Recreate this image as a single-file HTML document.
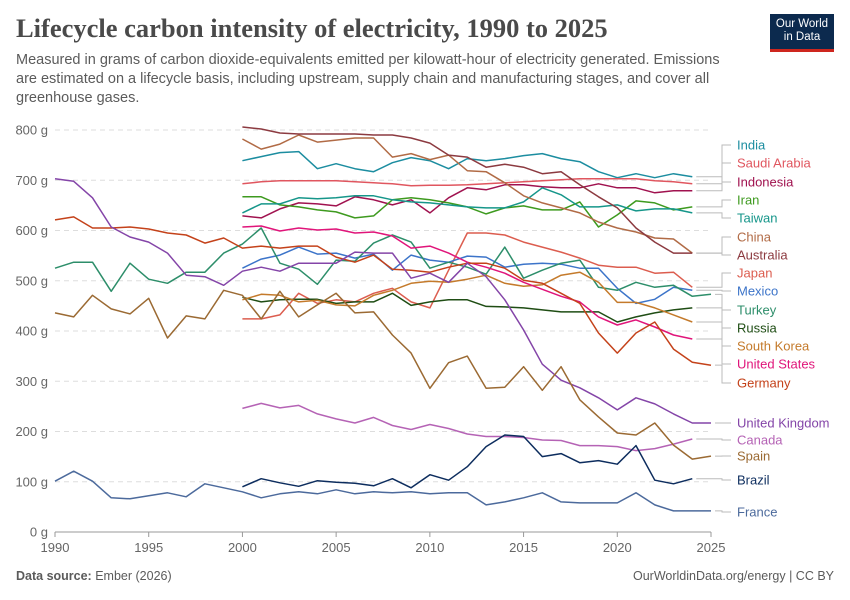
<!DOCTYPE html>
<html><head><meta charset="utf-8">
<style>
body{margin:0;background:#fff;width:850px;height:600px;overflow:hidden;font-family:"Liberation Sans",sans-serif;}
#wrap{position:relative;width:850px;height:600px;}
.title{position:absolute;left:16px;top:13px;font-family:"Liberation Serif",serif;font-size:26.5px;color:#4a4a4a;margin:0;font-weight:bold;letter-spacing:0px}
.sub{position:absolute;left:16px;top:51px;width:728px;font-size:14.5px;line-height:19px;color:#5b5b5b;margin:0}
.logo{position:absolute;left:770px;top:14px;width:64px;height:38px;background:#0c2a4e;color:#fff;font-size:11.5px;line-height:13px;text-align:center;padding-top:4px;box-sizing:border-box;border-bottom:3px solid #ce261e}
.foot{position:absolute;top:569px;font-size:12.5px;color:#5b5b5b}
</style></head><body>
<div id="wrap">
<h1 class="title">Lifecycle carbon intensity of electricity, 1990 to 2025</h1>
<p class="sub">Measured in grams of carbon dioxide-equivalents emitted per kilowatt-hour of electricity generated. Emissions are estimated on a lifecycle basis, including upstream, supply chain and manufacturing stages, and cover all greenhouse gases.</p>
<div class="logo">Our World<br>in Data</div>
<svg id="chart" width="850" height="600" style="position:absolute;left:0;top:0"></svg>
<div class="foot" style="left:16px"><b>Data source:</b> Ember (2026)</div>
<div class="foot" style="right:16px">OurWorldinData.org/energy | CC BY</div>
</div>
<script>
const yTicks=[0,100,200,300,400,500,600,700,800];
const xTicks=[1990,1995,2000,2005,2010,2015,2020,2025];
const countries=["India","Saudi Arabia","Indonesia","Iran","Taiwan","China","Australia","Japan","Mexico","Turkey","Russia","South Korea","United States","Germany","United Kingdom","Canada","Spain","Brazil","France"];
const startYears=[2000,2000,2000,2000,2000,2000,2000,2000,2000,1990,2000,2000,2000,1990,1990,2000,1990,2000,1990];
const india=[739,747,755,757,723,733,723,717,735,745,739,723,743,739,743,749,753,743,737,717,705,713,705,713,707];
const saudi=[693,697,699,699,699,699,697,695,693,689,690,690,691,693,695,697,699,701,703,703,703,703,699,697,693];
const indonesia=[629,625,643,655,653,649,667,661,651,661,635,665,685,681,691,691,687,685,685,693,685,685,675,679,679];
const iran=[667,667,651,647,641,637,625,629,661,665,661,655,647,633,645,649,641,641,657,607,631,659,655,641,647];
const taiwan=[635,653,653,665,663,665,669,669,661,657,655,651,647,645,645,657,685,671,647,647,651,639,643,643,635];
const china=[782,762,772,790,776,780,784,784,746,753,741,750,719,717,695,669,655,645,635,617,605,597,585,583,555];
const australia=[806,802,794,792,792,792,792,790,790,784,774,750,746,726,732,726,713,717,691,667,645,605,577,555,555];
const japan=[424,424,432,475,455,462,458,475,485,458,446,521,595,595,591,577,567,557,545,531,527,527,515,517,487];
const mexico=[525,543,551,567,553,555,545,553,521,551,541,537,549,547,527,533,535,533,525,525,485,455,463,487,481];
const turkey=[525,537,537,479,535,503,495,517,517,555,573,605,535,523,493,541,539,575,591,577,525,537,527,513,567,505,521,535,541,487,481,497,487,491,469,473];
const russia=[467,458,462,463,463,455,458,458,475,451,458,462,462,449,448,446,442,438,438,438,418,428,436,442,446];
const korea=[462,473,471,458,461,452,450,471,481,495,499,497,503,511,495,489,492,511,517,497,457,457,446,432,418];
const usa=[607,609,599,605,601,603,595,597,589,565,569,555,537,527,515,497,483,469,458,428,412,422,408,392,384];
const germany=[621,627,605,605,607,603,595,591,575,585,565,569,565,569,569,547,537,551,523,521,517,527,535,535,525,501,495,475,455,396,356,396,418,364,338,332];
const uk=[703,698,665,607,587,577,555,511,508,491,519,527,519,535,535,535,557,555,555,505,515,497,535,508,462,402,334,302,287,267,243,267,255,235,217,217];
const canada=[246,256,247,252,235,225,217,228,212,204,214,206,195,190,190,188,183,182,172,172,170,162,166,175,185];
const spain=[436,428,471,444,434,465,386,430,424,481,471,424,479,428,452,475,436,438,392,356,286,337,350,286,288,329,282,329,263,229,197,193,217,173,145,151];
const brazil=[90,106,98,91,102,99,97,92,106,88,114,103,130,170,193,190,150,156,138,142,135,172,103,96,106];
const france=[101,121,101,68,66,72,78,70,96,88,80,68,76,80,76,84,76,80,78,80,76,78,78,54,60,68,78,60,58,58,58,78,54,42,42,42];
const seriesValues=[india,saudi,indonesia,iran,taiwan,china,australia,japan,mexico,turkey,russia,korea,usa,germany,uk,canada,spain,brazil,france];
const colors=["#1c8da0","#e0565f","#a0124f","#3e9a1f","#16968a","#b16b46","#8c3a40","#dc5d4f","#3c74c9","#2d8e6a","#1f4d14","#c47a2b","#e0157a","#c4421a","#8445a8","#b563b5","#9b6a33","#0d2d5e","#4c6a9c"];
const labelY=[145,163,182,200,218,237,255,273,291,310,328,346,364,383,423,440,456,480,512];

const NS="http://www.w3.org/2000/svg";
const svg=document.getElementById('chart');
const X0=55,X1=711,Y0=532,Y1=130;
function xs(yr){return X0+(yr-1990)*(X1-X0)/35;}
function ys(v){return Y0-v*(Y0-Y1)/800;}
function mk(tag,attrs){const e=document.createElementNS(NS,tag);for(const k in attrs)e.setAttribute(k,attrs[k]);svg.appendChild(e);return e;}

yTicks.forEach(t=>{
  if(t>0){const g=mk('line',{x1:X0,x2:X1,y1:ys(t),y2:ys(t),stroke:'#ddd','stroke-dasharray':'5,4'});
  
  }
  const tx=mk('text',{x:48,y:ys(t)+4.5,'text-anchor':'end','font-size':13,fill:'#666'});
  tx.textContent=t+' g';
  
  
});
const ax=mk('line',{x1:X0,x2:X1,y1:Y0,y2:Y0,stroke:'#999'});


xTicks.forEach(t=>{
  const tk=mk('line',{x1:xs(t),x2:xs(t),y1:Y0,y2:Y0+5,stroke:'#999'});
  
  
  const tx=mk('text',{x:xs(t),y:Y0+20,'text-anchor':'middle','font-size':13,fill:'#666'});
  tx.textContent=t;
  
  
});

seriesValues.forEach((vals,i)=>{
  const pts=vals.map((v,j)=>xs(startYears[i]+j).toFixed(1)+','+ys(v).toFixed(1)).join(' ');
  const pl=mk('polyline',{points:pts,fill:'none',stroke:colors[i],'stroke-width':1.5,'stroke-linejoin':'round'});
  
  
  const lastYr=startYears[i]+vals.length-1;
  const ex=xs(lastYr),ey=ys(vals[vals.length-1]);
  const cn=mk('path',{d:`M${ex+4},${ey} H722 V${labelY[i]} H731`,fill:'none',stroke:'#bbb','stroke-width':1});
  
  
  const lb=mk('text',{x:737,y:labelY[i]+4.5,'font-size':13,fill:colors[i]});
  lb.textContent=countries[i];
  
  
});
</script>
</body></html>
